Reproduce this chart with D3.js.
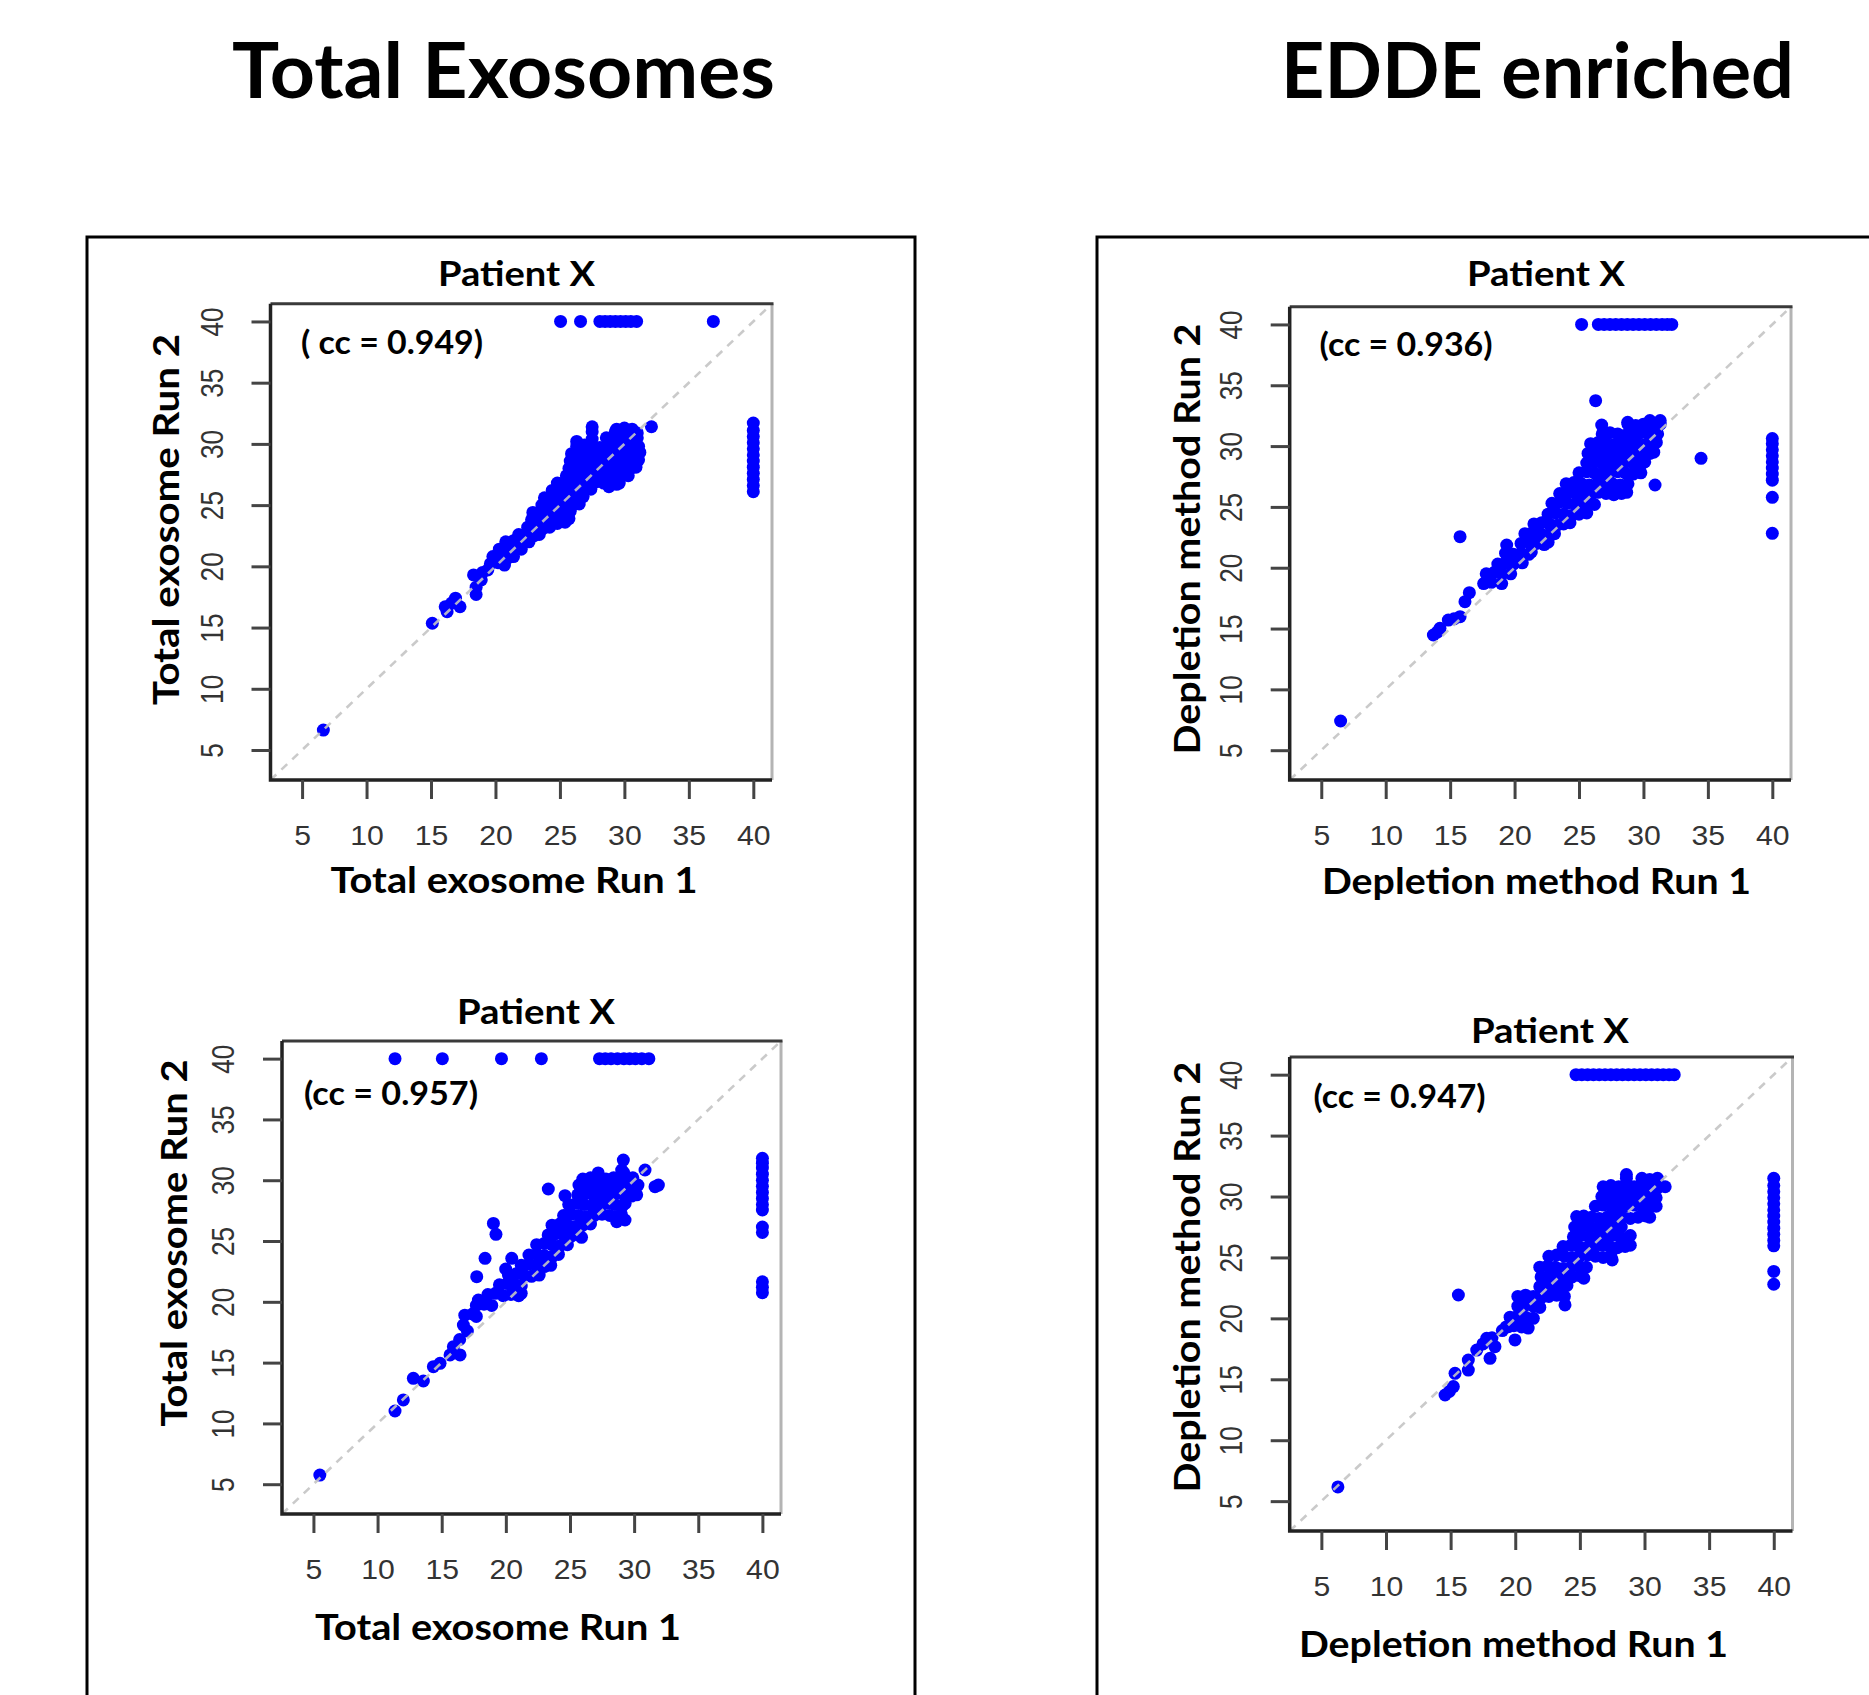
<!DOCTYPE html>
<html>
<head>
<meta charset="utf-8">
<script src="https://cdn.jsdelivr.net/npm/d3@7"></script>
<style>
  body { margin: 0; background: #fff; }
</style>
</head>
<body>
<div id="chart"></div>
<script>
// ---------- data (Ct values) ----------
const ticks = [5, 10, 15, 20, 25, 30, 35, 40];
const axisMin = 2.55, axisMax = 41.45;
const undetermined = 40;   // failed wells are plotted at Ct = 40

const headings = ["Total Exosomes", "EDDE enriched"];
const panelTitles = ["Patient X", "Patient X", "Patient X", "Patient X"];
const ccLabels = ["( cc = 0.949)", "(cc = 0.936)", "(cc = 0.957)", "(cc = 0.947)"];
const xLabels = ["Total exosome Run 1", "Depletion method Run 1", "Total exosome Run 1", "Depletion method Run 1"];
const yLabels = ["Total exosome Run 2", "Depletion method Run 2", "Total exosome Run 2", "Depletion method Run 2"];

// total exosomes, first patient panel: [run1, run2]
const totalA = [
  [6.65,6.63],[15.1,15.35],[16.1,16.7],[16.9,17.4],[17.25,16.7],[16.25,16.3],[16.6,17.0],
  [18.3,19.3],[18.9,18.9],[18.5,18.3],[18.5,17.7],[19.4,19.7],[19.0,19.5],
  [19.6,20.2],[20.2,20.3],[20.7,20.1],
  [19.8,20.8],[20.4,20.9],[21.0,20.7],[21.4,20.8],
  [20.3,21.4],[20.9,21.5],[21.5,21.3],[22.0,21.4],
  [20.8,22.0],[21.4,22.1],[22.0,21.9],[22.6,22.0],
  [21.8,22.6],[22.4,22.7],[23.0,22.5],[23.4,22.6],
  [22.5,23.2],[23.1,23.3],[23.7,23.1],[24.2,23.2],[24.8,23.5],[25.4,23.6],
  [22.8,23.8],[23.4,23.9],[24.0,23.8],[24.6,23.9],[25.2,23.8],[25.7,23.9],
  [22.9,24.4],[23.5,24.5],[24.1,24.4],[24.7,24.3],[25.3,24.4],[25.8,24.5],
  [23.6,25.0],[24.2,25.1],[24.8,25.0],[25.4,24.9],[26.0,25.0],[26.5,25.1],
  [23.8,25.6],[24.4,25.7],[25.0,25.6],[25.6,25.5],[26.2,25.6],[26.8,25.7],
  [24.4,26.2],[25.0,26.3],[25.6,26.2],[26.2,26.1],[26.8,26.2],[27.4,26.3],[29.4,26.7],[28.8,26.5],
  [24.8,26.8],[25.4,26.9],[26.0,26.8],[26.6,26.7],[27.2,26.8],[27.8,26.9],[28.4,26.8],[29.0,26.9],[29.6,26.8],
  [25.5,27.4],[26.1,27.5],[26.7,27.4],[27.3,27.3],[27.9,27.4],[28.5,27.5],[29.1,27.4],[29.7,27.3],[30.3,27.4],
  [25.7,28.0],[26.3,28.1],[26.9,28.0],[27.5,27.9],[28.1,28.0],[28.7,28.1],[29.3,28.0],[29.9,27.9],[30.5,28.0],[30.9,28.1],
  [25.8,28.6],[26.4,28.7],[27.0,28.6],[27.6,28.5],[28.2,28.6],[28.8,28.7],[29.4,28.6],[30.0,28.5],[30.6,28.6],[31.1,28.7],
  [25.9,29.2],[26.5,29.3],[27.1,29.2],[27.7,29.1],[28.3,29.2],[28.9,29.3],[29.5,29.2],[30.1,29.1],[30.7,29.2],[31.2,29.3],
  [26.3,29.8],[26.9,29.9],[27.5,29.8],[28.1,29.7],[28.7,29.8],[29.3,29.9],[29.9,29.8],[30.5,29.7],[31.1,29.8],
  [26.3,30.2],[27.5,30.4],[28.6,30.5],[29.2,30.4],[29.8,30.3],[30.4,30.4],[31.0,30.5],
  [27.5,31.0],[29.3,31.0],[29.9,30.9],[30.5,31.0],[31.0,30.9],
  [27.5,31.4],[29.4,31.2],[30.0,31.3],[30.6,31.2],[32.1,31.4]
];
const totalA_run2Fail = [25.05, 26.6, 28.1, 28.5, 28.9, 29.3, 29.7, 30.1, 30.5, 30.95, 36.9];
const totalA_run1Fail = [26.1, 26.6, 27.1, 27.6, 28.1, 28.6, 29.1, 29.6, 30.1, 30.6, 31.1, 31.7];

// EDDE enriched (depletion method), first patient panel
const depletionA = [
  [6.5,7.4],
  [13.7,14.47],[14.21,15.02],[14.86,15.7],[15.77,15.98],[16.15,17.21],[16.49,17.95],[14.0,14.7],[15.3,15.8],
  [15.77,22.55],[19.39,21.87],[26.29,33.73],[26.76,31.73],[28.78,31.95],[30.5,32.1],[31.3,32.1],[34.47,28.99],[30.9,26.8],
  [17.6,18.7],[18.2,18.8],[19.0,18.7],
  [17.8,19.5],[18.4,19.6],[19.0,19.5],[19.7,19.5],
  [18.7,20.3],[19.3,20.4],[19.9,20.3],[20.6,20.4],[20.2,20.6],
  [19.3,21.2],[19.9,21.1],[20.5,21.2],[21.1,21.1],[21.3,21.3],
  [20.5,22.0],[21.1,22.1],[21.7,22.0],[22.3,21.9],[22.6,22.1],
  [20.8,22.8],[21.4,22.9],[22.0,22.8],[22.6,22.7],[23.1,22.8],
  [21.5,23.6],[22.1,23.7],[22.7,23.6],[23.3,23.5],[23.8,23.6],[24.3,23.7],
  [22.6,24.4],[23.2,24.5],[23.8,24.4],[24.4,24.3],[25.0,24.4],[25.6,24.5],
  [22.9,25.3],[23.5,25.4],[24.1,25.3],[24.7,25.2],[25.3,25.3],[25.9,25.4],[26.2,25.2],
  [23.5,26.1],[24.1,26.2],[24.7,26.1],[25.3,26.0],[25.9,26.1],[26.5,26.2],[27.1,26.1],[27.7,26.0],[28.3,26.1],[28.7,26.2],
  [24.0,26.9],[24.6,27.0],[25.2,26.9],[25.8,26.8],[26.4,26.9],[27.0,27.0],[27.6,26.9],[28.2,26.8],[28.8,26.9],
  [25.0,27.8],[25.6,27.9],[26.2,27.8],[26.8,27.7],[27.4,27.8],[28.0,27.9],[28.6,27.8],[29.2,27.7],[29.8,27.8],
  [25.6,28.6],[26.2,28.7],[26.8,28.6],[27.4,28.5],[28.0,28.6],[28.6,28.7],[29.2,28.6],[29.8,28.5],[30.1,28.7],
  [25.7,29.4],[26.3,29.5],[26.9,29.4],[27.5,29.3],[28.1,29.4],[28.7,29.5],[29.3,29.4],[29.9,29.3],[30.5,29.4],[30.8,29.5],
  [25.9,30.2],[26.5,30.3],[27.1,30.2],[27.7,30.1],[28.3,30.2],[28.9,30.3],[29.5,30.2],[30.1,30.1],[30.7,30.2],[31.0,30.3],
  [26.8,31.0],[27.4,31.1],[28.0,31.0],[28.6,30.9],[29.2,31.0],[29.8,31.1],[30.4,31.0],[31.1,31.0],
  [28.8,31.8],[29.4,31.7],[30.0,31.8],[30.7,31.7],[31.3,31.8]
];
const depletionA_run2Fail = [25.2, 26.5, 26.95, 27.4, 27.85, 28.3, 28.75, 29.2, 29.65, 30.1, 30.55, 31.0, 31.45, 31.85, 32.2];
const depletionA_run1Fail = [22.83, 25.79, 27.2, 27.7, 28.2, 28.7, 29.2, 29.7, 30.2, 30.62];

// total exosomes, second patient panel
const totalB = [
  [5.5,5.75],
  [11.36,11.02],[12.01,11.93],[12.79,13.71],[13.57,13.49],[14.35,14.67],[14.87,14.94],[15.65,15.63],[16.43,15.63],[15.91,16.31],[16.69,18.09],[16.4,16.9],[17.0,17.6],
  [17.73,22.07],[18.38,23.58],[19.03,26.45],[19.23,25.55],[19.99,22.7],[20.46,23.58],[23.31,29.28],[24.61,28.73],
  [29.16,31.66],[29.03,30.84],[30.85,30.84],[31.63,29.47],[31.89,29.6],[17.86,20.15],[28.64,26.59],[29.29,26.73],
  [16.8,18.9],[17.4,19.0],[17.7,18.8],
  [17.7,19.7],[18.3,19.8],[18.9,19.7],
  [18.6,20.6],[19.2,20.7],[19.8,20.5],[20.4,20.6],[21.0,20.5],[21.2,20.7],
  [19.5,21.4],[20.1,21.5],[20.7,21.4],[21.2,21.3],
  [20.2,22.2],[20.8,22.3],[21.4,22.2],[22.0,22.1],[22.6,22.2],
  [21.2,23.0],[21.8,23.1],[22.4,23.0],[23.0,22.9],[23.5,23.0],
  [21.8,23.85],[22.4,23.9],[23.0,23.8],[23.6,23.7],[24.1,23.9],
  [22.4,24.7],[23.0,24.8],[23.6,24.7],[24.2,24.6],[24.8,24.7],
  [23.3,25.5],[23.9,25.6],[24.5,25.5],[25.1,25.4],[25.7,25.5],[25.9,25.3],
  [23.6,26.3],[24.2,26.4],[24.8,26.3],[25.4,26.2],[26.0,26.3],[26.6,26.4],
  [24.5,27.1],[25.1,27.2],[25.7,27.1],[26.3,27.0],[26.9,27.1],[27.5,27.2],[28.1,27.1],[28.6,27.0],[29.0,27.2],
  [24.9,28.0],[25.5,28.1],[26.1,28.0],[26.7,27.9],[27.3,28.0],[27.9,28.1],[28.5,28.0],[29.1,27.9],[29.3,28.1],
  [25.6,28.8],[26.2,28.9],[26.8,28.8],[27.4,28.7],[28.0,28.8],[28.6,28.9],[29.2,28.8],[29.8,28.7],[30.2,28.8],
  [25.7,29.6],[26.3,29.7],[26.9,29.6],[27.5,29.5],[28.1,29.6],[28.7,29.7],[29.3,29.6],[29.9,29.5],[30.3,29.6],
  [26.0,30.1],[26.6,30.2],[27.2,30.3],[27.8,30.1],[28.4,30.2],[29.0,30.2],[29.6,30.1],[29.9,30.2],
  [27.2,30.6],[29.2,30.6]
];
const totalB_run2Fail = [11.36, 15.05, 19.66, 22.77, 27.3, 27.75, 28.2, 28.7, 29.2, 29.65, 30.1, 30.6, 31.15];
const totalB_run1Fail = [20.75, 21.2, 21.65, 25.7, 26.15, 27.55, 28.0, 28.5, 29.0, 29.5, 30.0, 30.5, 31.0, 31.4, 31.8];

// EDDE enriched, second patient panel
const depletionB = [
  [6.28,6.17],[15.6,21.92],
  [14.57,13.71],[15.21,14.4],[15.34,15.49],[16.37,15.76],[16.37,16.58],[17.02,17.4],[18.05,16.72],[17.79,18.36],[18.43,17.68],
  [14.9,14.0],[17.5,17.9],[18.2,18.4],[19.98,18.23],[19.47,19.32],[19.0,19.0],
  [19.3,19.3],[19.9,19.4],[20.5,19.3],[21.0,19.2],
  [19.6,20.1],[20.2,20.2],[20.8,20.1],[21.4,20.0],
  [20.2,21.0],[20.8,21.1],[21.4,21.0],[21.9,20.9],[23.85,21.1],
  [20.2,21.8],[20.8,21.9],[21.4,21.8],[22.0,21.7],[22.6,21.8],[23.2,21.9],[23.8,21.8],
  [21.9,22.6],[22.5,22.7],[23.1,22.6],[23.7,22.5],[24.0,22.7],
  [22.0,23.4],[22.6,23.5],[23.2,23.4],[23.8,23.3],[24.4,23.4],[25.0,23.5],[25.3,23.3],
  [21.9,24.2],[22.5,24.3],[23.1,24.2],[23.7,24.1],[24.3,24.2],[24.9,24.3],[25.5,24.2],
  [22.6,25.1],[23.2,25.2],[23.8,25.1],[24.4,25.0],[25.0,25.1],[25.6,25.2],[26.2,25.1],[26.8,25.0],[27.4,25.1],[27.5,24.8],
  [23.7,25.9],[24.3,26.0],[24.9,25.9],[25.5,25.8],[26.1,25.9],[26.7,26.0],[27.3,25.9],[27.9,25.8],[28.5,25.9],[28.9,26.0],
  [24.5,26.7],[25.1,26.8],[25.7,26.7],[26.3,26.6],[26.9,26.7],[27.5,26.8],[28.1,26.7],[28.7,26.6],[28.9,26.8],
  [24.6,27.5],[25.2,27.6],[25.8,27.5],[26.4,27.4],[27.0,27.5],[27.6,27.6],[28.2,27.5],
  [24.75,28.35],[25.3,28.4],[25.9,28.3],[26.5,28.2],[27.1,28.3],[27.7,28.4],[28.3,28.3],[28.9,28.2],[29.5,28.3],[30.1,28.4],[30.4,28.3],
  [26.2,29.2],[26.8,29.3],[27.4,29.2],[28.0,29.1],[28.6,29.2],[29.2,29.3],[29.8,29.2],[30.4,29.1],[30.9,29.2],
  [26.7,30.0],[27.3,30.1],[27.9,30.0],[28.5,29.9],[29.1,30.0],[29.7,30.1],[30.3,30.0],[30.9,29.9],
  [26.8,30.8],[27.4,30.9],[28.0,30.8],[28.6,30.7],[29.2,30.8],[29.8,30.9],[30.4,30.8],[31.0,30.7],[31.6,30.8],
  [28.6,31.5],[29.8,31.5],[30.4,31.4],[31.0,31.5],[28.6,31.8]
];
const depletionB_run2Fail = [24.7, 25.15, 25.6, 26.05, 26.5, 26.95, 27.4, 27.85, 28.3, 28.75, 29.2, 29.65, 30.1, 30.55, 31.0, 31.45, 31.9, 32.3];
const depletionB_run1Fail = [22.8, 23.85, 25.95, 26.4, 26.9, 27.4, 27.9, 28.4, 28.9, 29.4, 29.9, 30.4, 30.9, 31.5];

// ---------- layout ----------
const W = 1869, H = 1695;
const boldFont = "Lato, 'Open Sans', sans-serif";
const tickFont = "'Liberation Sans', Arial, sans-serif";

const panels = [
  { pts: totalA, top: totalA_run2Fail, right: totalA_run1Fail,
    box: [270.5, 303.7, 772, 780],
    title: [516.5, 286.4, 157], cc: [301, 353.6, 182], xl: [514, 892.6, 367], yl: [178.7, 519.4, 371] },
  { pts: depletionA, top: depletionA_run2Fail, right: depletionA_run1Fail,
    box: [1289.7, 306.8, 1791, 780],
    title: [1546, 286.4, 158], cc: [1319.6, 355.8, 173], xl: [1536.5, 893.5, 429], yl: [1199.5, 539, 431] },
  { pts: totalB, top: totalB_run2Fail, right: totalB_run1Fail,
    box: [282, 1041, 781, 1514],
    title: [536, 1024, 158], cc: [304, 1105, 174], xl: [498, 1640, 366], yl: [186.5, 1243, 367] },
  { pts: depletionB, top: depletionB_run2Fail, right: depletionB_run1Fail,
    box: [1289.7, 1057, 1792.5, 1531],
    title: [1550, 1042.7, 158], cc: [1313.6, 1108.3, 172], xl: [1513.5, 1657.4, 429], yl: [1200, 1277, 431] }
];

const svg = d3.select("#chart")
  .append("svg")
  .attr("width", W)
  .attr("height", H)
  .style("background", "#fff");

// big headings
const headPos = [[503.5, 543], [1537.5, 513]];
svg.selectAll("text.heading")
  .data(headings)
  .join("text")
  .attr("class", "heading")
  .attr("x", (d, i) => headPos[i][0])
  .attr("y", 98)
  .attr("text-anchor", "middle")
  .attr("font-family", boldFont)
  .attr("font-weight", 700)
  .attr("font-size", 77)
  .attr("textLength", (d, i) => headPos[i][1])
  .attr("lengthAdjust", "spacingAndGlyphs")
  .text(d => d);

// the two frames (run off the bottom / right edge of the picture)
svg.append("path")
  .attr("d", "M87,1705V237H915V1705")
  .attr("fill", "none").attr("stroke", "#000").attr("stroke-width", 3);
svg.append("path")
  .attr("d", "M1097,1705V237H1880")
  .attr("fill", "none").attr("stroke", "#000").attr("stroke-width", 3);

function boldText(g, str, x, y, size, width, anchor) {
  return g.append("text")
    .attr("x", x).attr("y", y)
    .attr("text-anchor", anchor || "middle")
    .attr("font-family", boldFont)
    .attr("font-weight", 700)
    .attr("font-size", size)
    .attr("fill", "#000")
    .attr("textLength", width)
    .attr("lengthAdjust", "spacingAndGlyphs")
    .text(str);
}

panels.forEach(function(p, i) {
  const [x0, y0, x1, y1] = p.box;
  const x = d3.scaleLinear().domain([axisMin, axisMax]).range([x0, x1]);
  const y = d3.scaleLinear().domain([axisMin, axisMax]).range([y1, y0]);
  const g = svg.append("g");

  const all = p.pts
    .concat(p.top.map(v => [v, undetermined]))
    .concat(p.right.map(v => [undetermined, v]));

  g.append("g")
    .selectAll("circle")
    .data(all)
    .join("circle")
    .attr("cx", d => x(d[0]))
    .attr("cy", d => y(d[1]))
    .attr("r", 6.5)
    .attr("fill", "#0000ff");

  // identity line, drawn over the points like abline()
  g.append("line")
    .attr("x1", x(axisMin)).attr("y1", y(axisMin))
    .attr("x2", x(axisMax)).attr("y2", y(axisMax))
    .attr("stroke", "#c4c4c4")
    .attr("stroke-opacity", 0.9)
    .attr("stroke-width", 2.6)
    .attr("stroke-dasharray", "8,7");

  // plot box: dark left/bottom/top, light right edge
  g.append("line").attr("x1", x1).attr("y1", y0).attr("x2", x1).attr("y2", y1)
    .attr("stroke", "#b4b4b4").attr("stroke-width", 3);
  g.append("line").attr("x1", x0).attr("y1", y0).attr("x2", x1 + 1.5).attr("y2", y0)
    .attr("stroke", "#3a3a3a").attr("stroke-width", 3);
  g.append("path")
    .attr("d", `M${x0},${y0}V${y1}H${x1}`)
    .attr("fill", "none").attr("stroke", "#222").attr("stroke-width", 3.5);

  // x axis
  const xa = g.append("g")
    .attr("transform", `translate(0,${y1})`)
    .call(d3.axisBottom(x).tickValues(ticks).tickSize(19).tickPadding(27).tickSizeOuter(0));
  xa.select(".domain").remove();
  xa.selectAll(".tick line").attr("stroke", "#444").attr("stroke-width", 3);
  xa.selectAll(".tick text")
    .attr("font-family", tickFont)
    .attr("font-size", 27)
    .attr("fill", "#333")
    .attr("textLength", d => String(d).length * 16.8)
    .attr("lengthAdjust", "spacingAndGlyphs");

  // y axis, labels parallel to the axis
  const ya = g.append("g")
    .attr("transform", `translate(${x0},0)`)
    .call(d3.axisLeft(y).tickValues(ticks).tickSize(19).tickSizeOuter(0));
  ya.select(".domain").remove();
  ya.selectAll(".tick line").attr("stroke", "#444").attr("stroke-width", 3);
  ya.selectAll(".tick text")
    .attr("x", 0)
    .attr("dy", "0.36em")
    .attr("transform", "translate(-59,0) rotate(-90)")
    .attr("text-anchor", "middle")
    .attr("font-family", tickFont)
    .attr("font-size", 31)
    .attr("fill", "#333")
    .attr("textLength", d => String(d).length * 14.6)
    .attr("lengthAdjust", "spacingAndGlyphs");

  // texts
  boldText(g, panelTitles[i], p.title[0], p.title[1], 34, p.title[2]);
  boldText(g, ccLabels[i], p.cc[0], p.cc[1], 32, p.cc[2], "start");
  boldText(g, xLabels[i], p.xl[0], p.xl[1], 37, p.xl[2]);
  boldText(g, yLabels[i], 0, 0, 37, p.yl[2])
    .attr("transform", `translate(${p.yl[0]},${p.yl[1]}) rotate(-90)`);
});
</script>
</body>
</html>
